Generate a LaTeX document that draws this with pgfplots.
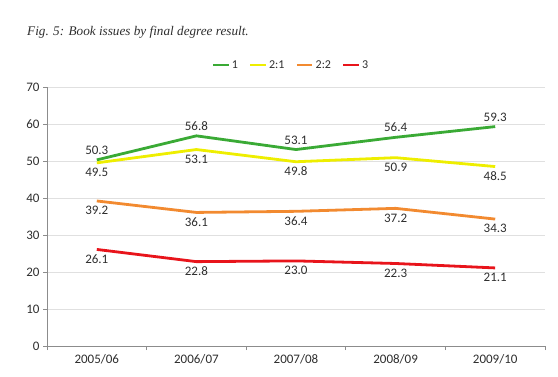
\documentclass[border=0pt]{standalone}
\usepackage{fontspec}
\setmainfont{Carlito}
\usepackage{pgfplots}
\pgfplotsset{compat=1.18}
\definecolor{cgreen}{HTML}{3AAA35}
\definecolor{cyellow}{HTML}{EEEE00}
\definecolor{corange}{HTML}{F28A30}
\definecolor{cred}{HTML}{E8141B}
\definecolor{axgray}{HTML}{8C8C8C}
\definecolor{txt}{HTML}{2E2E2E}
\begin{document}
\begin{tikzpicture}[x=1pt,y=1pt]
\useasboundingbox (0,0) rectangle (558,376);
\node[anchor=west, text=txt, inner sep=0pt] at (27,344) {\fontspec{Liberation Serif}\fontsize{13.2}{15}\selectfont\itshape Fig. 5: Book issues by final degree result.};
\begin{axis}[
  at={(47pt,30pt)}, anchor=south west,
  scale only axis, width=498pt, height=259pt,
  xmin=-0.5, xmax=4.5, ymin=0, ymax=70,
  xtick={0,1,2,3,4},
  xticklabels={2005/06,2006/07,2007/08,2008/09,2009/10},
  minor xtick={-0.5,0.5,1.5,2.5,3.5,4.5},
  ytick={0,10,...,70},
  axis x line*=bottom, axis y line*=left,
  axis line style={axgray, line width=0.8pt, -},
  x axis line style={-}, y axis line style={-},
  major x tick style={draw=none},
  minor x tick style={axgray, line width=0.8pt},
  y tick style={axgray, line width=0.8pt},
  tick align=outside, major tick length=4pt, minor tick length=4pt,
  ymajorgrids, grid style={draw=black!12, line width=0.5pt},
  tick label style={font=\fontsize{13}{15}\selectfont, text=txt},
  /pgf/number format/assume math mode=true,
  xticklabel style={yshift=-1pt},
  nodes near coords,
  every node near coord/.append style={font=\fontsize{13}{15}\selectfont, text=txt, /pgf/number format/fixed, /pgf/number format/fixed zerofill, /pgf/number format/precision=1},
  legend style={at={(0.49,1.05)}, anchor=south, draw=none, fill=none, legend columns=-1, font=\fontsize{12}{14}\selectfont, text=txt, /tikz/every even column/.append style={column sep=9pt}},
  legend image code/.code={\draw[#1, line width=2.5pt] (0,0) -- (0.55cm,0);},
]
\addplot[cgreen, line width=2.8pt, every node near coord/.append style={anchor=south, yshift=0.5pt}] coordinates {(0,50.3) (1,56.8) (2,53.1) (3,56.4) (4,59.3)};
\addplot[cyellow, line width=2.8pt, every node near coord/.append style={anchor=north, yshift=-0.5pt}] coordinates {(0,49.5) (1,53.1) (2,49.8) (3,50.9) (4,48.5)};
\addplot[corange, line width=2.8pt, every node near coord/.append style={anchor=north, yshift=-0.5pt}] coordinates {(0,39.2) (1,36.1) (2,36.4) (3,37.2) (4,34.3)};
\addplot[cred, line width=2.8pt, every node near coord/.append style={anchor=north, yshift=-0.5pt}] coordinates {(0,26.1) (1,22.8) (2,23.0) (3,22.3) (4,21.1)};
\legend{1,2:1,2:2,3}
\end{axis}
\end{tikzpicture}
\end{document}
